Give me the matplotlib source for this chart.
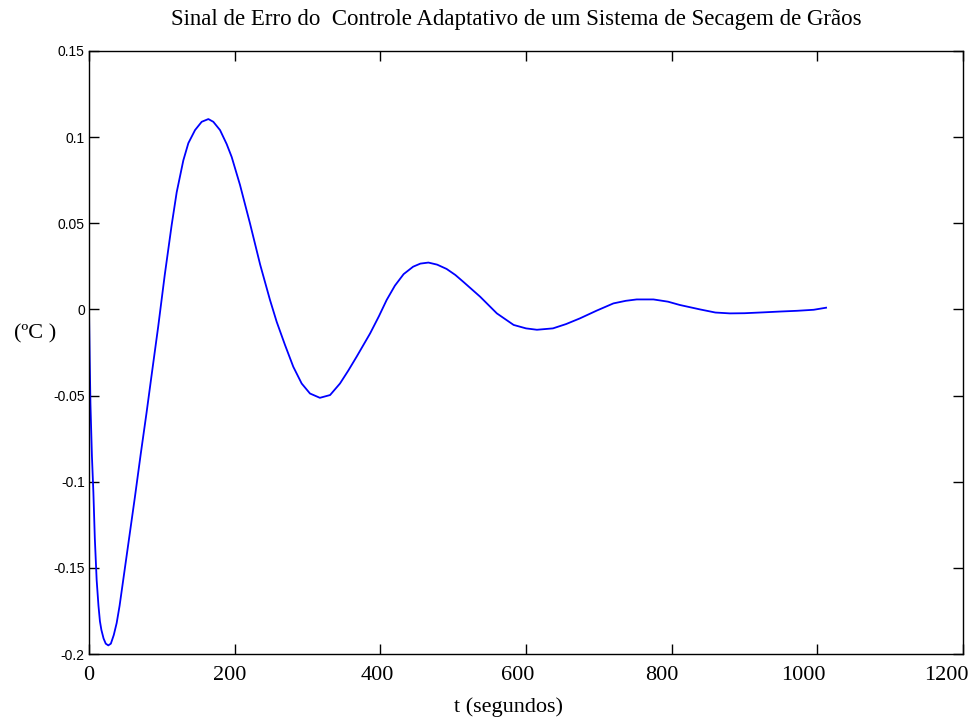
import matplotlib
matplotlib.use("Agg")
import matplotlib.pyplot as plt
from matplotlib.transforms import ScaledTranslation

# time (s) and error signal (°C)
t = [0, 1, 2, 4, 6, 8, 10.5, 13, 15, 17, 20, 23, 26.5, 30, 34, 38, 42, 47, 55, 63,
     71, 79, 86, 95, 104, 113.5, 120.4, 129.5, 136.4, 145.6, 154.7, 163.9, 170.7,
     179.9, 189, 195.9, 207.3, 221, 235, 248.5, 257.7, 269, 280.5, 292, 303.4,
     317, 331, 344.6, 356, 367.5, 386, 398, 408.7, 420, 432, 445, 455, 466, 478,
     491, 503, 514, 537, 560, 583, 600, 615, 637, 655, 674, 697, 720, 737, 752,
     775, 795, 811, 839, 860, 880, 900, 926, 950, 972, 995, 1012]
erro = [0.000, -0.030, -0.055, -0.085, -0.106, -0.133, -0.157, -0.172, -0.181,
        -0.186, -0.191, -0.194, -0.195, -0.194, -0.189, -0.182, -0.172, -0.157,
        -0.133, -0.109, -0.084, -0.060, -0.038, -0.010, 0.020, 0.049, 0.068,
        0.0865, 0.0965, 0.1041, 0.1089, 0.1105, 0.1089, 0.1041, 0.096, 0.0885,
        0.0723, 0.050, 0.026, 0.0055, -0.0072, -0.0205, -0.0333, -0.043, -0.0488,
        -0.0513, -0.0497, -0.043, -0.0355, -0.0274, -0.0139, -0.004, 0.0055,
        0.0138, 0.0205, 0.0248, 0.0266, 0.0272, 0.026, 0.0235, 0.020, 0.016,
        0.0074, -0.0023, -0.009, -0.011, -0.0118, -0.011, -0.0085, -0.0052,
        -0.0007, 0.0035, 0.005, 0.0058, 0.0058, 0.0045, 0.0026, 0.000, -0.0018,
        -0.0023, -0.0022, -0.0017, -0.0012, -0.0008, -0.0002, 0.001]

xticks = [0, 200, 400, 600, 800, 1000, 1200]
xticklabels = ["0", "200", "400", "600", "800", "1000", "1200"]
yticks = [-0.2, -0.15, -0.1, -0.05, 0, 0.05, 0.1, 0.15]
yticklabels = ["-0.2", "-0.15", "-0.1", "-0.05", "0", "0.05", "0.1", "0.15"]

W, H = 972, 718
fig = plt.figure(figsize=(W / 100, H / 100), dpi=100)
ax = fig.add_axes([89 / W, 1 - 654 / H, (963 - 89) / W, (654 - 51) / H])

ax.plot(t, erro, color="#0000ff", lw=1.3, solid_joinstyle="round")

ax.set_xlim(0, 1200)
ax.set_ylim(-0.2, 0.15)
ax.set_xticks(xticks)
ax.set_xticklabels(xticklabels, fontfamily="Liberation Serif", fontsize=16)
ax.set_yticks(yticks)
ax.set_yticklabels(yticklabels, fontfamily="Liberation Sans", fontsize=10)
ax.tick_params(axis="both", direction="in", length=7, width=1,
               top=True, right=True, color="black")
ax.tick_params(axis="x", pad=9)
ax.tick_params(axis="y", pad=3)
for s in ax.spines.values():
    s.set_linewidth(1.0)
    s.set_color("black")

# the reference's x tick labels sit slightly left of their ticks
label_shift_px = [0, -5, -3, -8, -10, -14, -17]
for lab, dx in zip(ax.get_xticklabels(), label_shift_px):
    lab.set_transform(lab.get_transform() + ScaledTranslation(dx / 100, 0, fig.dpi_scale_trans))

fig.text(516 / W, 1 - 20 / H, "Sinal de Erro do  Controle Adaptativo de um Sistema de Secagem de Grãos",
         ha="center", va="center", fontfamily="Liberation Serif", fontsize=16.5)
fig.text(508 / W, 1 - 707 / H, "t (segundos)", ha="center", va="center",
         fontfamily="Liberation Serif", fontsize=16)
fig.text(35 / W, 1 - 334 / H, "(ºC )", ha="center", va="center",
         fontfamily="Liberation Serif", fontsize=16)

fig.savefig("out.png", dpi=100)
